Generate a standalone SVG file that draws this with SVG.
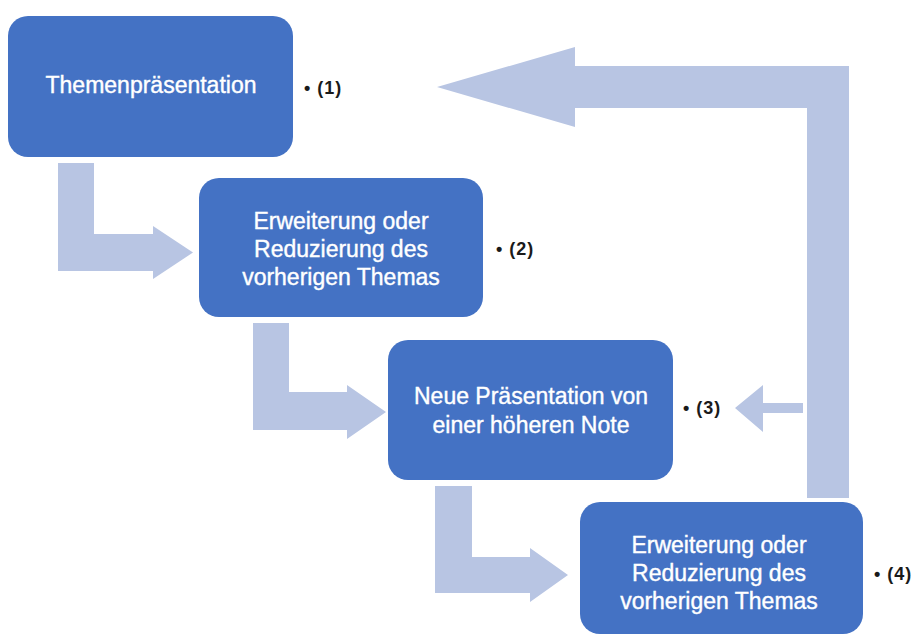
<svg xmlns="http://www.w3.org/2000/svg" width="919" height="637" viewBox="0 0 919 637">
<style>
.box{fill:#4472C4;}
.bt{fill:#FFFFFF;stroke:#FFFFFF;stroke-width:0.4;font-family:"Liberation Sans",Arial,sans-serif;font-size:23px;text-anchor:middle;}
.lbl{fill:#1A1A1A;font-family:"Liberation Sans",Arial,sans-serif;font-size:18px;font-weight:bold;letter-spacing:1px;}
.arr{fill:#B8C5E3;}
</style>
<rect width="919" height="637" fill="#FFFFFF"/>
<g id="connectors">
<polygon class="arr" points="58,163 94,163 94,234 153,234 153,226 193,252.5 153,279 153,271 58,271"/>
<polygon class="arr" points="253,323 289,323 289,392 347,392 347,385 386,412 347,439 347,430 253,430"/>
<polygon class="arr" points="435,486 472,486 472,557 530,557 530,548 568,575 530,602 530,593 435,593"/>
<polygon class="arr" points="807,498 807,108 575,108 575,127 437,87 575,47 575,66 849,66 849,498"/>
<polygon class="arr" points="803,403 803,413 763,413 763,432 735,408 763,385 763,403"/>
</g>
<g id="node1">
<rect class="box" x="8" y="16" width="285" height="141" rx="20"/>
<text class="bt" x="151" y="93">Themenpräsentation</text>
</g>
<g id="node2">
<rect class="box" x="199" y="178" width="284" height="139" rx="20"/>
<text class="bt" x="341" y="229">Erweiterung oder</text>
<text class="bt" x="341" y="257">Reduzierung des</text>
<text class="bt" x="341" y="285">vorherigen Themas</text>
</g>
<g id="node3">
<rect class="box" x="388" y="340" width="285" height="140" rx="20"/>
<text class="bt" x="531" y="404">Neue Präsentation von</text>
<text class="bt" x="531" y="433">einer höheren Note</text>
</g>
<g id="node4">
<rect class="box" x="580" y="502" width="283" height="132" rx="20"/>
<text class="bt" x="719" y="553">Erweiterung oder</text>
<text class="bt" x="719" y="581">Reduzierung des</text>
<text class="bt" x="719" y="609">vorherigen Themas</text>
</g>
<g id="labels">
<text class="lbl" x="304" y="94">• (1)</text>
<text class="lbl" x="496" y="255">• (2)</text>
<text class="lbl" x="683" y="414">• (3)</text>
<text class="lbl" x="874" y="580">• (4)</text>
</g>
</svg>
